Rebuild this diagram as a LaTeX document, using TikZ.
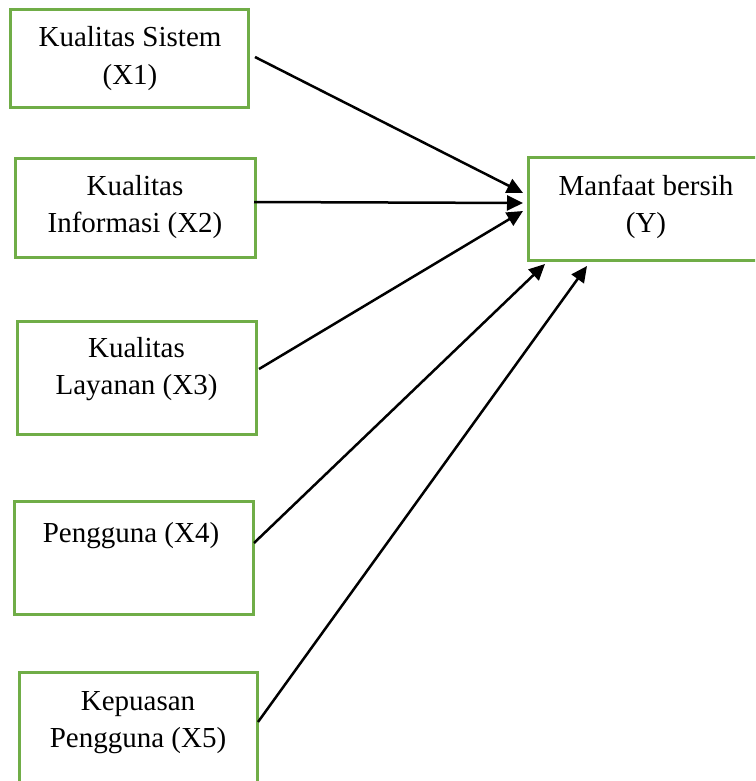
\documentclass[tikz,border=0pt]{standalone}
\usepackage{fontspec}
\setmainfont{Liberation Serif}
\usetikzlibrary{arrows.meta}
\definecolor{boxgreen}{RGB}{112,173,71}
\begin{document}
\begin{tikzpicture}[x=1pt,y=-1pt,
  box/.style={draw=boxgreen,line width=3pt,fill=white},
  lbl/.style={anchor=base,inner sep=0pt,font=\fontsize{29}{37.5}\selectfont},
  arr/.style={line width=2.5pt,-{Triangle[length=16pt,width=15pt]}}]
\useasboundingbox (0,0) rectangle (755,781);
\clip (0,0) rectangle (755,781);
% boxes
\path[box] (10,10) rectangle (248,108);
\path[box] (15,158) rectangle (255,257);
\path[box] (17,321) rectangle (256,434);
\path[box] (14,501) rectangle (253,614);
\path[box] (19,672) rectangle (257,795);
\path[box] (528,157) rectangle (770,260);
% labels
\node[lbl] (X1) at (130,47) {\begin{tabular}[t]{@{}c@{}}Kualitas Sistem\\(X1)\end{tabular}};
\node[lbl] (X2) at (135,195) {\begin{tabular}[t]{@{}c@{}}Kualitas\\Informasi (X2)\end{tabular}};
\node[lbl] (X3) at (136.5,357) {\begin{tabular}[t]{@{}c@{}}Kualitas\\Layanan (X3)\end{tabular}};
\node[lbl] (X4) at (131,542) {Pengguna (X4)};
\node[lbl] (X5) at (138,710) {\begin{tabular}[t]{@{}c@{}}Kepuasan\\Pengguna (X5)\end{tabular}};
\node[lbl] (Y) at (646,195) {\begin{tabular}[t]{@{}c@{}}Manfaat bersih\\(Y)\end{tabular}};
% connector end points
\coordinate (s1) at (255,57);
\coordinate (s2) at (254,202);
\coordinate (s3) at (259,369);
\coordinate (s4) at (254,543);
\coordinate (s5) at (258,722);
\coordinate (t1) at (523,193);
\coordinate (t2) at (523,203);
\coordinate (t3) at (523,211);
\coordinate (t4) at (545,264);
\coordinate (t5) at (587,266);
\draw[arr] (s1) -- (t1);
\draw[arr] (s2) -- (t2);
\draw[arr] (s3) -- (t3);
\draw[arr] (s4) -- (t4);
\draw[arr] (s5) -- (t5);
\end{tikzpicture}
\end{document}
